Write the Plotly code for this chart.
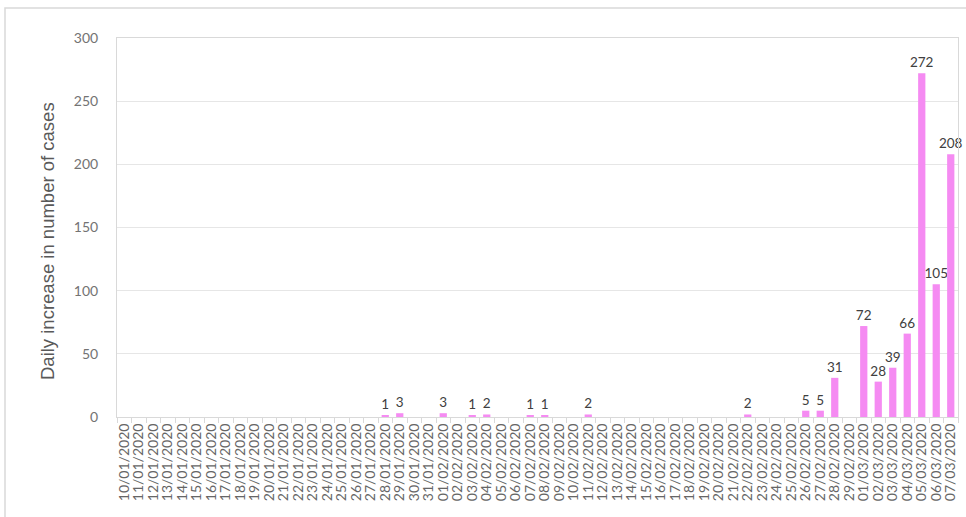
import datetime as dt
import plotly.graph_objects as go

# Daily counts, 10 Jan 2020 – 7 Mar 2020
start = dt.date(2020, 1, 10)
end = dt.date(2020, 3, 7)
dates = []
d = start
while d <= end:
    dates.append(d.strftime("%d/%m/%Y"))
    d += dt.timedelta(days=1)

nonzero_days = {
    "28/01/2020": 1, "29/01/2020": 3, "01/02/2020": 3, "03/02/2020": 1,
    "04/02/2020": 2, "07/02/2020": 1, "08/02/2020": 1, "11/02/2020": 2,
    "22/02/2020": 2, "26/02/2020": 5, "27/02/2020": 5, "28/02/2020": 31,
    "01/03/2020": 72, "02/03/2020": 28, "03/03/2020": 39, "04/03/2020": 66,
    "05/03/2020": 272, "06/03/2020": 105, "07/03/2020": 208,
}
daily_increase = [nonzero_days.get(x, 0) for x in dates]
bar_labels = [str(v) if v else "" for v in daily_increase]

y_ticks = [0, 50, 100, 150, 200, 250, 300]
y_title = "Daily increase in number of cases"

# plot area in pixels: left 117, right 958, top 38, bottom 417
PL, PR, PT, PB = 117, 958, 38, 417
PW, PH = PR - PL, PB - PT

fig = go.Figure(
    go.Bar(
        x=dates,
        y=daily_increase,
        text=bar_labels,
        textposition="outside",
        constraintext="none",
        textfont=dict(family="Lato, Carlito, sans-serif", size=13.5, color="#404040"),
        cliponaxis=False,
        marker=dict(color="#F58BF2", line=dict(width=0)),
        width=0.5,
        hoverinfo="x+y",
    )
)

fig.update_layout(
    width=966,
    height=517,
    margin=dict(l=PL, r=966 - PR, t=PT, b=517 - PB),
    paper_bgcolor="white",
    plot_bgcolor="white",
    showlegend=False,
    xaxis=dict(
        type="category",
        tickmode="array",
        tickvals=dates,
        ticktext=dates,
        tickangle=-90,
        tickfont=dict(family="Lato, Carlito, sans-serif", size=14, color="#666666"),
        ticks="outside",
        tickson="boundaries",
        ticklen=5,
        tickcolor="#d9d9d9",
        showline=True,
        linecolor="#d9d9d9",
        mirror=True,
        showgrid=False,
        range=[-0.5, len(dates) - 0.5],
    ),
    yaxis=dict(
        range=[0, 300],
        tickvals=y_ticks,
        tickfont=dict(family="Lato, Carlito, sans-serif", size=14, color="#737373"),
        showgrid=True,
        gridcolor="#e6e6e6",
        gridwidth=1,
        showline=True,
        linecolor="#d9d9d9",
        mirror=True,
        zeroline=False,
        ticks="",
        ticklabelstandoff=15,
    ),
    annotations=[
        dict(
            text=y_title,
            textangle=-90,
            xref="paper", yref="paper",
            x=(47 - PL) / PW, y=(PB - 241) / PH,
            xanchor="center", yanchor="middle",
            showarrow=False,
            font=dict(family="Liberation Sans, Arial, sans-serif", size=18.5, color="#595959"),
        )
    ],
    shapes=[
        # outer chart frame
        dict(
            type="rect", xref="paper", yref="paper",
            x0=(5 - PL) / PW, x1=(975 - PL) / PW,
            y0=(PB - 530) / PH, y1=(PB - 8) / PH,
            line=dict(color="#d9d9d9", width=1.5),
            fillcolor="rgba(0,0,0,0)",
            layer="below",
        )
    ],
)

fig.write_html("out.html")
